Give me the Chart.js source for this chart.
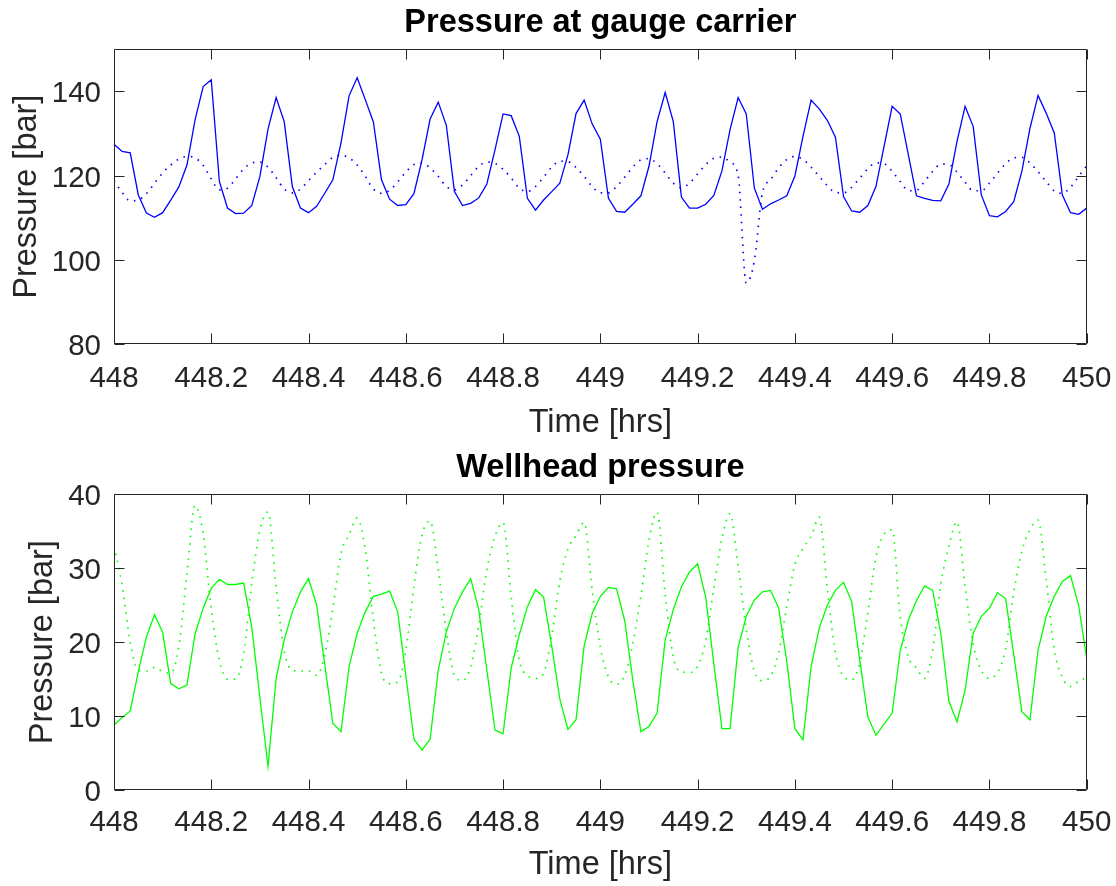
<!DOCTYPE html>
<html>
<head>
<meta charset="utf-8">
<title>Pressure</title>
<script src="https://cdn.jsdelivr.net/npm/chart.js@4/dist/chart.umd.min.js"></script>
<style>
  html, body { margin: 0; padding: 0; background: #fff; }
  canvas { position: absolute; left: 0; }
  #gaugeChart { top: 0; }
  #wellheadChart { top: 443px; }
</style>
</head>
<body>
<canvas id="gaugeChart" width="1116" height="443"></canvas>
<canvas id="wellheadChart" width="1116" height="443"></canvas>
<script>
// time axis: one sample per minute from 448 h to 450 h
const startHrs = 448;
const xTicks = [448, 448.2, 448.4, 448.6, 448.8, 449, 449.2, 449.4, 449.6, 449.8, 450];
const xTickLabels = ['448', '448.2', '448.4', '448.6', '448.8', '449', '449.2', '449.4', '449.6', '449.8', '450'];

const gaugeTicks = [80, 100, 120, 140];
const wellheadTicks = [0, 10, 20, 30, 40];

// gauge carrier pressure [bar], solid = measured, dotted = model
const gaugeMeasured = [
  127.4, 125.7, 125.4, 115.4, 111.1, 110.1, 111.2, 114.2, 117.3, 122.5,
  133.2, 141.1, 142.7, 118.6, 112.3, 111.0, 111.1, 112.9, 119.8, 131.0,
  138.5, 132.8, 117.4, 112.3, 111.2, 112.7, 115.8, 119.0, 127.7, 138.9,
  143.2, 138.0, 132.7, 119.0, 114.4, 112.9, 113.1, 115.7, 123.7, 133.4,
  137.4, 131.9, 116.2, 112.9, 113.4, 114.7, 118.0, 126.1, 134.6, 134.2,
  129.3, 114.6, 111.8, 114.2, 116.2, 118.2, 124.9, 134.7, 137.9, 132.2,
  128.6, 114.6, 111.5, 111.3, 113.2, 115.2, 122.2, 132.8, 139.7, 132.8,
  114.9, 112.3, 112.3, 113.2, 115.3, 121.1, 130.9, 138.5, 134.6, 117.0,
  112.0, 113.3, 114.2, 115.2, 119.9, 129.3, 137.9, 135.8, 133.1, 129.1,
  115.0, 111.6, 111.3, 112.9, 117.4, 126.9, 136.4, 134.6, 124.9, 115.2,
  114.6, 114.1, 114.0, 118.0, 128.1, 136.4, 131.6, 115.4, 110.5, 110.2,
  111.5, 113.8, 121.0, 131.2, 139.0, 134.8, 130.1, 115.4, 111.2, 110.8,
  112.3
];
const gaugeModel = [
  118.8, 116.0, 114.0, 114.2, 115.7, 118.2, 120.6, 122.5, 123.9, 124.5,
  124.2, 122.4, 119.2, 116.6, 117.0, 119.2, 121.6, 123.0, 123.2, 122.0,
  119.5, 116.8, 115.9, 116.8, 118.8, 120.8, 122.6, 124.3, 124.8, 124.2,
  122.5, 119.8, 116.8, 115.8, 116.5, 118.5, 120.8, 122.6, 123.0, 121.8,
  119.8, 117.4, 116.6, 117.8, 120.0, 122.2, 123.2, 122.9, 121.5, 119.4,
  117.0, 116.2, 117.4, 119.6, 122.0, 123.4, 123.3, 121.9, 119.8, 117.4,
  115.9, 115.9, 117.4, 119.6, 122.0, 123.7, 124.0, 122.8, 120.6, 118.2,
  117.1, 118.2, 120.4, 122.6, 124.1, 124.4, 123.2, 120.0, 94.5, 99.8,
  116.0, 119.0, 121.8, 123.8, 124.5, 123.8, 122.0, 119.8, 117.6, 116.0,
  115.9, 117.2, 119.4, 121.6, 123.0, 122.8, 121.0, 118.6, 116.4, 116.5,
  118.6, 121.0, 122.7, 122.6, 120.8, 118.4, 116.4, 116.4, 118.2, 120.6,
  122.8, 124.2, 124.3, 123.0, 120.9, 118.6, 116.3, 115.8, 117.2, 119.8,
  122.3
];

// wellhead pressure [bar], solid = measured, dotted = model
const wellheadMeasured = [
  8.8, 9.8, 10.7, 16.0, 20.7, 23.7, 21.3, 14.4, 13.7, 14.2,
  21.1, 24.6, 27.3, 28.5, 27.8, 27.8, 28.0, 22.0, 12.5, 3.2,
  15.1, 20.3, 24.1, 26.8, 28.6, 25.0, 17.0, 9.0, 7.9, 16.7,
  21.2, 24.1, 26.2, 26.5, 26.9, 24.1, 15.5, 6.9, 5.4, 6.9,
  16.2, 21.4, 24.6, 26.8, 28.6, 24.4, 16.2, 8.1, 7.6, 16.5,
  21.0, 24.8, 27.1, 26.1, 19.5, 12.3, 8.2, 9.5, 19.5, 23.9,
  26.2, 27.4, 27.2, 22.9, 14.9, 7.9, 8.6, 10.4, 20.3, 24.4,
  27.5, 29.5, 30.6, 26.1, 17.1, 8.3, 8.3, 19.3, 23.5, 25.7,
  26.8, 27.0, 24.6, 17.4, 8.3, 6.8, 16.7, 21.9, 25.0, 27.0,
  28.1, 25.5, 17.6, 9.9, 7.4, 8.9, 10.4, 18.9, 23.0, 25.6,
  27.6, 27.0, 21.2, 12.0, 9.2, 13.5, 21.2, 23.5, 24.6, 26.7,
  25.9, 18.3, 10.6, 9.5, 18.9, 23.5, 26.2, 28.2, 29.0, 25.0,
  17.8
];
const wellheadModel = [
  33.0, 27.7, 20.0, 16.2, 16.1, 16.6, 16.0, 15.8, 19.4, 29.3,
  38.5, 34.6, 24.4, 17.5, 15.0, 15.0, 18.5, 28.0, 35.2, 37.6,
  27.4, 18.8, 16.2, 16.1, 16.1, 15.5, 18.2, 24.6, 32.0, 34.5,
  36.8, 32.5, 23.0, 15.8, 14.4, 14.6, 18.9, 27.6, 34.5, 36.4,
  29.8, 21.3, 15.5, 14.8, 16.7, 22.3, 29.8, 34.3, 36.2, 26.1,
  17.5, 15.5, 15.1, 15.8, 20.9, 28.3, 32.6, 34.4, 36.2, 27.0,
  19.3, 15.3, 14.3, 15.5, 19.8, 26.2, 33.8, 37.6, 26.5, 18.0,
  16.0, 15.9, 16.7, 20.2, 27.3, 34.0, 37.4, 30.2, 21.8, 16.0,
  14.8, 15.4, 18.6, 24.8, 30.5, 32.7, 34.3, 36.9, 27.2, 18.6,
  15.4, 14.9, 17.2, 24.0, 31.5, 34.6, 35.2, 23.3, 18.0, 16.5,
  15.1, 19.0, 27.8, 33.0, 36.3, 27.5, 19.7, 16.2, 15.1, 15.9,
  19.1, 26.7, 32.3, 35.2, 36.5, 28.4, 19.0, 15.2, 14.0, 14.7,
  15.2
];

const axisColor = '#262626';
const fontFamily = '"Liberation Sans", Arial, Helvetica, sans-serif';

function toPoints(values) {
  return values.map((v, i) => ({ x: startHrs + i / 60, y: v }));
}

// matlab-style box: frame on all four sides, ticks pointing inward
const boxTicks = {
  id: 'boxTicks',
  afterDraw(chart) {
    const { ctx, chartArea: a, scales: { x, y } } = chart;
    const len = 10;
    const L = Math.round(a.left) + 0.5, R = Math.round(a.right) - 0.5;
    const T = Math.round(a.top) + 0.5, B = Math.round(a.bottom) - 0.5;
    ctx.save();
    ctx.strokeStyle = axisColor;
    ctx.lineWidth = 1;
    ctx.beginPath();
    ctx.rect(L, T, R - L, B - T);
    x.ticks.forEach(t => {
      const px = Math.round(x.getPixelForValue(t.value)) + 0.5;
      ctx.moveTo(px, B); ctx.lineTo(px, B - len);
      ctx.moveTo(px, T); ctx.lineTo(px, T + len);
    });
    y.ticks.forEach(t => {
      const py = Math.round(y.getPixelForValue(t.value)) + 0.5;
      ctx.moveTo(L, py); ctx.lineTo(L + len, py);
      ctx.moveTo(R, py); ctx.lineTo(R - len, py);
    });
    ctx.stroke();
    ctx.restore();
  }
};

function makeChart(id, opts) {
  const ctx = document.getElementById(id).getContext('2d');
  return new Chart(ctx, {
    type: 'line',
    data: {
      datasets: [
        {
          data: toPoints(opts.measured),
          borderColor: opts.color,
          borderWidth: 1.3,
          pointRadius: 0,
          tension: 0
        },
        {
          data: toPoints(opts.model),
          borderColor: opts.color,
          borderWidth: 1.7,
          borderDash: [1.5, 6],
          pointRadius: 0,
          cubicInterpolationMode: 'monotone'
        }
      ]
    },
    options: {
      responsive: false,
      animation: false,
      events: [],
      layout: { padding: { left: 0, right: 29.3, top: 0, bottom: 0 } },
      plugins: {
        legend: { display: false },
        tooltip: { enabled: false },
        title: {
          display: true,
          fullSize: false,
          text: opts.title,
          color: '#000',
          font: { family: fontFamily, size: 32.5, weight: 'bold' },
          padding: opts.titlePadding
        }
      },
      scales: {
        x: {
          type: 'linear',
          min: 448,
          max: 450,
          grid: { display: false, drawTicks: false },
          border: { display: false },
          afterBuildTicks: s => { s.ticks = xTicks.map(v => ({ value: v })); },
          afterFit: s => {
            s.height = opts.xHeight;
            s.paddingLeft = 0;
            s.paddingRight = 0;
          },
          ticks: {
            autoSkip: false,
            maxRotation: 0,
            padding: opts.xTickPad,
            color: axisColor,
            font: { family: fontFamily, size: 29.5 },
            callback: v => xTickLabels[xTicks.indexOf(v)]
          },
          title: {
            display: true,
            text: 'Time [hrs]',
            color: axisColor,
            font: { family: fontFamily, size: 32.5 },
            padding: { top: 0, bottom: opts.xTitlePad }
          }
        },
        y: {
          min: opts.yMin,
          max: opts.yMax,
          grid: { display: false, drawTicks: false },
          border: { display: false },
          afterBuildTicks: s => { s.ticks = opts.yTicks.map(v => ({ value: v })); },
          afterFit: s => {
            s.width = 114;
            s.paddingTop = 0;
            s.paddingBottom = 0;
          },
          ticks: {
            padding: 13,
            labelOffset: 3,
            color: axisColor,
            font: { family: fontFamily, size: 29.5 }
          },
          title: {
            display: true,
            text: 'Pressure [bar]',
            color: axisColor,
            font: { family: fontFamily, size: 32.5 },
            padding: { top: opts.yTitlePad, bottom: 0 }
          }
        }
      }
    },
    plugins: [boxTicks]
  });
}

makeChart('gaugeChart', {
  title: 'Pressure at gauge carrier',
  measured: gaugeMeasured,
  model: gaugeModel,
  color: '#0000ff',
  yMin: 80,
  yMax: 150,
  yTicks: gaugeTicks,
  titlePadding: { top: 3.5, bottom: 6.5 },
  xHeight: 98.7,
  xTickPad: 16.5,
  xTitlePad: 0.5,
  yTitlePad: 7.7
});

makeChart('wellheadChart', {
  title: 'Wellhead pressure',
  measured: wellheadMeasured,
  model: wellheadModel,
  color: '#00ff00',
  yMin: 0,
  yMax: 40,
  yTicks: wellheadTicks,
  titlePadding: { top: 5.5, bottom: 6.8 },
  xHeight: 96,
  xTickPad: 15.3,
  xTitlePad: 1.5,
  yTitlePad: 23.8
});
</script>
</body>
</html>
